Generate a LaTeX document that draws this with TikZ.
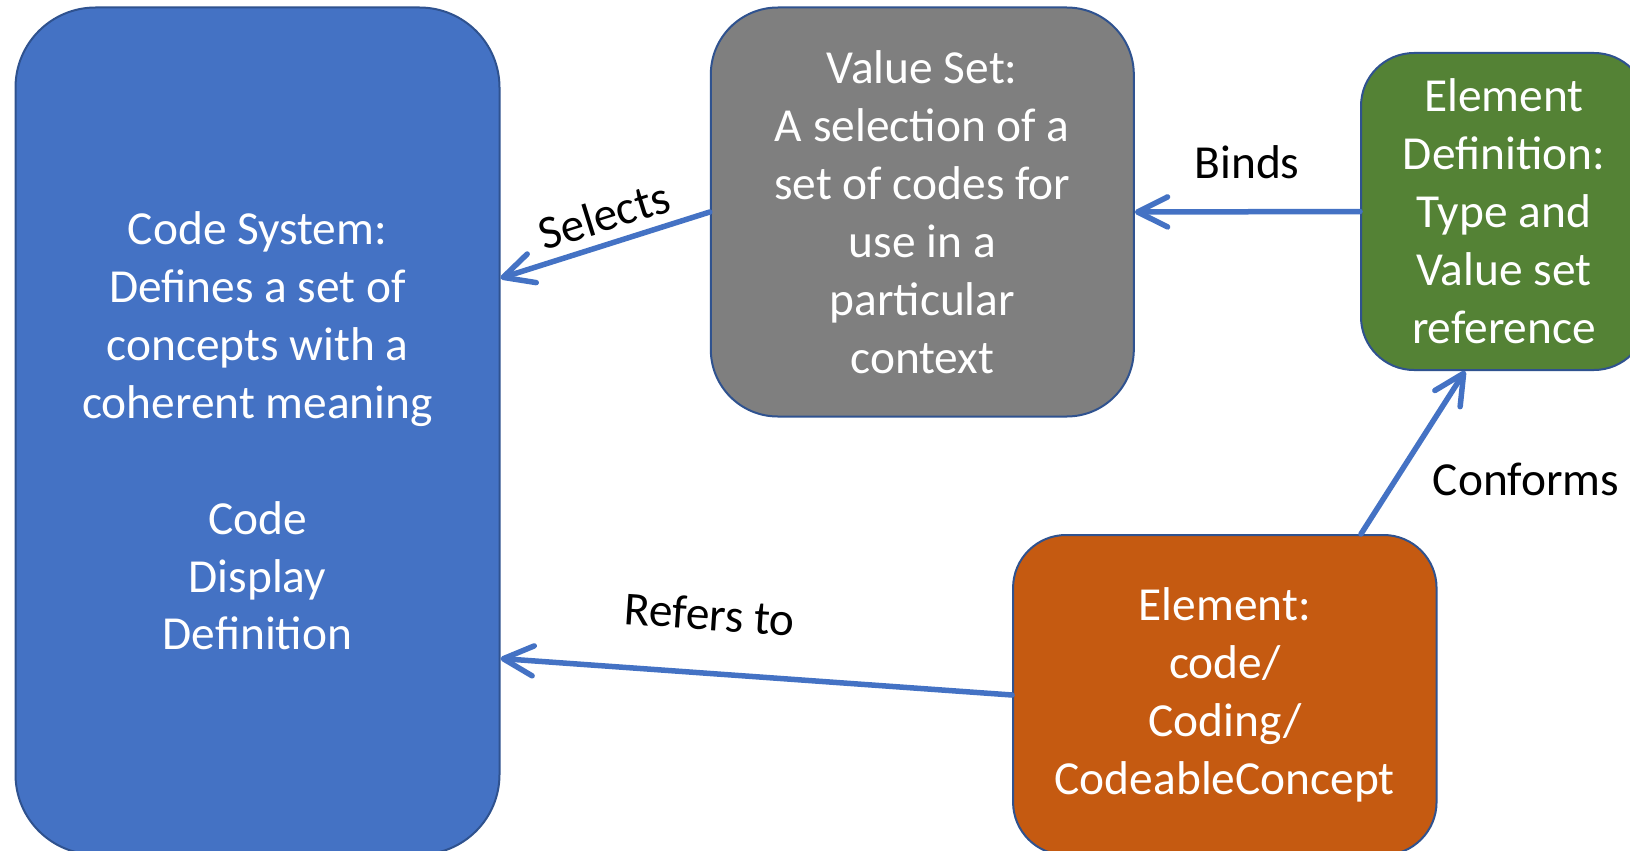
\documentclass[tikz,border=0pt]{standalone}
\usepackage{fontspec}
\setmainfont{Carlito}
\usetikzlibrary{arrows.meta,calc}
\definecolor{csblue}{HTML}{4472C4}
\definecolor{edgeblue}{HTML}{2F528F}
\definecolor{vsgray}{HTML}{7F7F7F}
\definecolor{edgreen}{HTML}{548235}
\definecolor{elorange}{HTML}{C55A11}
\tikzset{
  boxstyle/.style={draw=edgeblue, line width=2pt, text=white, align=center, inner sep=0pt,
    font=\fontsize{47.4}{57.9}\selectfont},
  conn/.style={draw=csblue, line width=5.5pt, line cap=round, line join=round,
    -{Straight Barb[length=30pt, width=30pt, line cap=round, line join=round]}},
  lbl/.style={text=black, inner sep=0pt, font=\fontsize{47.4}{57.9}\selectfont}
}
\begin{document}
\begin{tikzpicture}[x=1pt,y=-1pt]
\useasboundingbox (0,0) rectangle (1630,851);
\clip (0,0) rectangle (1630,851);
\fill[white] (0,0) rectangle (1630,851);
\node[boxstyle, fill=csblue, rounded corners=80pt, minimum width=484pt, minimum height=847pt] (cs) at (257.5,431)
  {Code System:\\Defines a set of\\concepts with a\\coherent meaning\\[57.9pt]Code\\Display\\Definition};
\node[boxstyle, fill=vsgray, rounded corners=67pt, minimum width=423pt, minimum height=409pt] (vs) at (922.3,212)
  {Value Set:\\A selection of a\\set of codes for\\use in a\\particular\\context};
\node[boxstyle, fill=edgreen, rounded corners=53pt, minimum width=286pt, minimum height=317pt] (ed) at (1504,211.5)
  {Element\\Definition:\\Type and\\Value set\\reference};
\node[boxstyle, fill=elorange, rounded corners=53pt, minimum width=423.5pt, minimum height=320pt] (el) at (1224.8,695)
  {Element:\\code/\\Coding/\\CodeableConcept};
\coordinate (csSel) at ($(cs.north east)!0.32!(cs.south east)$);
\coordinate (csRef) at ($(cs.north east)!0.768!(cs.south east)$);
\coordinate (elTop) at ($(el.north west)!0.82!(el.north east)$);
\coordinate (edBot) at ($(ed.south west)!0.365!(ed.south east)$);
\draw[conn] (vs.west) -- (csSel);
\draw[conn] (ed.west) -- (vs.east);
\draw[conn] (elTop) -- (edBot);
\draw[conn] (el.west) -- (csRef);
\node[lbl, rotate=17.4] (lsel) at (604,215) {Selects};
\node[lbl, anchor=base] (lbind) at (1247,178) {Binds};
\node[lbl, anchor=base] (lconf) at (1526,495) {Conforms};
\node[lbl, rotate=-3.9] (lref) at (710,614) {Refers to};
\end{tikzpicture}
\end{document}
